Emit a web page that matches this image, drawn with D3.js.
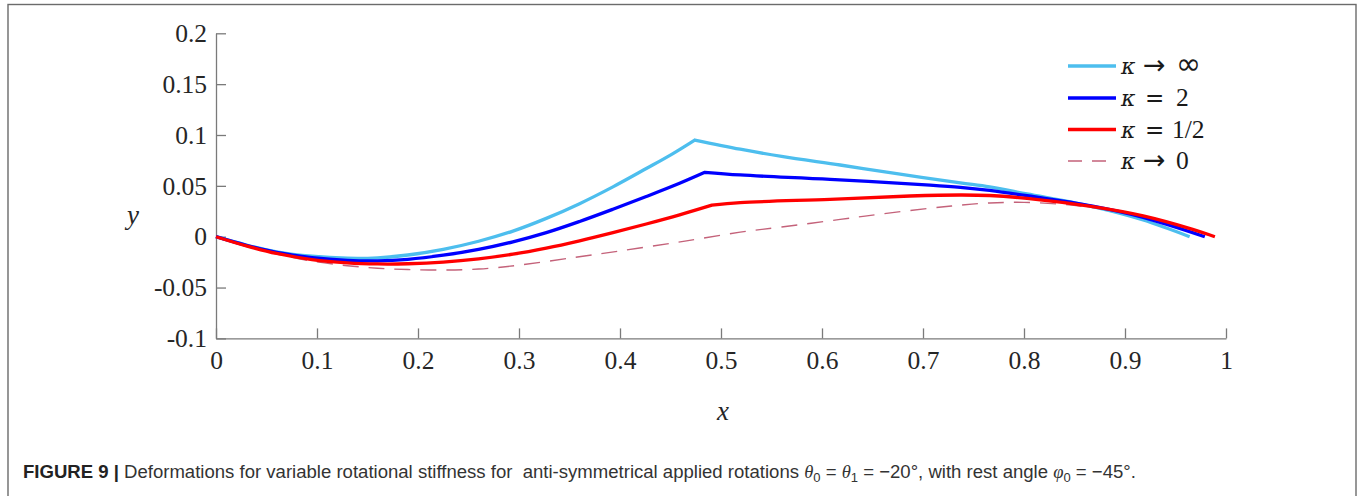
<!DOCTYPE html>
<html>
<head>
<meta charset="utf-8">
<script src="https://cdn.jsdelivr.net/npm/d3@7"></script>
<style>
  html, body { margin: 0; padding: 0; background: #fff; }
  svg { display: block; }
</style>
</head>
<body>
<svg id="chart" width="1362" height="496"></svg>
<script>
// Beam deflection y(x) for several rotational stiffness ratios kappa
const xTickValues = [0, 0.1, 0.2, 0.3, 0.4, 0.5, 0.6, 0.7, 0.8, 0.9, 1];
const xTickLabels = ["0", "0.1", "0.2", "0.3", "0.4", "0.5", "0.6", "0.7", "0.8", "0.9", "1"];
const yTickValues = [-0.1, -0.05, 0, 0.05, 0.1, 0.15, 0.2];
const yTickLabels = ["-0.1", "-0.05", "0", "0.05", "0.1", "0.15", "0.2"];

// kappa -> infinity : left branch up to the hinge, right branch after it
const stiffLeftX  = [0, 0.030, 0.060, 0.095, 0.130, 0.160, 0.190, 0.225, 0.260, 0.294, 0.327, 0.360, 0.393, 0.426, 0.452, 0.474];
const stiffLeftY  = [0, -0.0082, -0.0148, -0.0192, -0.0212, -0.0208, -0.0180, -0.0125, -0.0045, 0.0055, 0.0180, 0.0325, 0.0490, 0.0670, 0.0815, 0.095];
const stiffRightX = [0.474, 0.519, 0.560, 0.618, 0.674, 0.737, 0.766, 0.803, 0.868, 0.918, 0.964];
const stiffRightY = [0.095, 0.086, 0.079, 0.0705, 0.062, 0.053, 0.049, 0.042, 0.0295, 0.0164, 0.0];

// kappa = 2
const k2LeftX  = [0, 0.030, 0.060, 0.095, 0.130, 0.160, 0.190, 0.225, 0.260, 0.294, 0.327, 0.360, 0.393, 0.426, 0.459, 0.484];
const k2LeftY  = [0, -0.0085, -0.0155, -0.0205, -0.0232, -0.0237, -0.0222, -0.0182, -0.0125, -0.0050, 0.0040, 0.0150, 0.0270, 0.0395, 0.0525, 0.0633];
const k2RightX = [0.484, 0.519, 0.608, 0.707, 0.737, 0.766, 0.803, 0.868, 0.918, 0.979];
const k2RightY = [0.0633, 0.0607, 0.0564, 0.0508, 0.0486, 0.0455, 0.0403, 0.030, 0.019, 0.0];

// kappa = 1/2
const kHalfLeftX  = [0, 0.030, 0.060, 0.095, 0.130, 0.160, 0.190, 0.225, 0.260, 0.294, 0.327, 0.360, 0.393, 0.426, 0.459, 0.491];
const kHalfLeftY  = [0, -0.0090, -0.0165, -0.0225, -0.0257, -0.0268, -0.0266, -0.0250, -0.0218, -0.0172, -0.0112, -0.0040, 0.0040, 0.0125, 0.0215, 0.031];
const kHalfRightX = [0.491, 0.519, 0.608, 0.687, 0.737, 0.766, 0.803, 0.868, 0.918, 0.967, 0.989];
const kHalfRightY = [0.031, 0.0335, 0.0368, 0.040, 0.041, 0.0405, 0.0377, 0.0295, 0.0204, 0.0072, 0.0];

// kappa -> 0 (smooth, no hinge)
const softX = [0, 0.030, 0.060, 0.095, 0.130, 0.160, 0.190, 0.225, 0.260, 0.300, 0.354, 0.400, 0.450, 0.479, 0.519, 0.560, 0.618, 0.660, 0.707, 0.737, 0.766, 0.800, 0.836, 0.868, 0.918, 0.967, 0.989];
const softY = [0, -0.0092, -0.0170, -0.0240, -0.0285, -0.0310, -0.0323, -0.0328, -0.0318, -0.0280, -0.0205, -0.0140, -0.0065, -0.0020, 0.0045, 0.0095, 0.017, 0.0225, 0.028, 0.031, 0.0332, 0.0338, 0.032, 0.0285, 0.020, 0.0068, 0.0];

// legend entries: symbol, relation, value
const legendSym = ["κ", "κ", "κ", "κ"];
const legendRel = ["→", "=", "=", "→"];
const legendVal = ["∞", "2", "1/2", "0"];

const colors = { stiff: "#4DBEEE", k2: "#0000FF", kHalf: "#FF0000", soft: "#C4627A" };

const svg = d3.select("#chart");
const serif = "'Liberation Serif', 'Times New Roman', serif";
const mathItalic = "'DejaVu Serif', 'Liberation Serif', serif";

// frame around the figure panel
svg.append("rect")
  .attr("x", 8).attr("y", 4.5)
  .attr("width", 1348).attr("height", 520)
  .attr("fill", "none").attr("stroke", "#6b6b6b").attr("stroke-width", 1.4);

const x = d3.scaleLinear().domain([0, 1]).range([216, 1226]);
const y = d3.scaleLinear().domain([-0.1, 0.2]).range([338.4, 33.3]);

// axes
const xAxis = d3.axisBottom(x).tickValues(xTickValues)
  .tickFormat((d, i) => xTickLabels[i]).tickSizeInner(-10).tickSizeOuter(0).tickPadding(13);
const yAxis = d3.axisLeft(y).tickValues(yTickValues)
  .tickFormat((d, i) => yTickLabels[i]).tickSizeInner(-10).tickSizeOuter(0).tickPadding(9);

const gx = svg.append("g").attr("transform", `translate(0,${y(-0.1)})`).call(xAxis);
const gy = svg.append("g").attr("transform", `translate(${x(0)},0)`).call(yAxis);
[gx, gy].forEach(g => {
  g.select(".domain").attr("stroke", "#7a7a7a").attr("stroke-width", 1.3);
  g.selectAll(".tick line").attr("stroke", "#7a7a7a").attr("stroke-width", 1.3);
  g.selectAll(".tick text").attr("fill", "#262626")
    .style("font-family", serif).style("font-size", "25.5px");
});

// axis titles
svg.append("text").attr("x", 723).attr("y", 420).attr("text-anchor", "middle")
  .style("font-family", serif).style("font-style", "italic").style("font-size", "27px")
  .attr("fill", "#262626").text("x");
svg.append("text").attr("x", 133).attr("y", 224).attr("text-anchor", "middle")
  .style("font-family", serif).style("font-style", "italic").style("font-size", "27px")
  .attr("fill", "#262626").text("y");

// curves
const line = d3.line().x(d => x(d[0])).y(d => y(d[1])).curve(d3.curveCatmullRom.alpha(0.5));
const zip = (xs, ys) => xs.map((v, i) => [v, ys[i]]);
// two smooth branches joined at the hinge without rounding the corner
const hinged = (lx, ly, rx, ry) => line(zip(lx, ly)) + line(zip(rx, ry)).replace(/^M/, "L");

const plot = svg.append("g").attr("fill", "none");
plot.append("path").attr("d", line(zip(softX, softY)))
  .attr("stroke", colors.soft).attr("stroke-width", 1.4).attr("stroke-dasharray", "16,10");
plot.append("path").attr("d", hinged(stiffLeftX, stiffLeftY, stiffRightX, stiffRightY))
  .attr("stroke", colors.stiff).attr("stroke-width", 3.3).attr("stroke-linejoin", "miter");
plot.append("path").attr("d", hinged(k2LeftX, k2LeftY, k2RightX, k2RightY))
  .attr("stroke", colors.k2).attr("stroke-width", 3.3).attr("stroke-linejoin", "miter");
plot.append("path").attr("d", hinged(kHalfLeftX, kHalfLeftY, kHalfRightX, kHalfRightY))
  .attr("stroke", colors.kHalf).attr("stroke-width", 3.3).attr("stroke-linejoin", "miter");

// legend
const legendRows = [66, 98, 129.5, 161];
const legendStyles = [
  { c: colors.stiff, w: 3.3, dash: null },
  { c: colors.k2, w: 3.3, dash: null },
  { c: colors.kHalf, w: 3.3, dash: null },
  { c: colors.soft, w: 1.4, dash: "14,10" }
];
const lg = svg.append("g");
legendSym.forEach((sym, i) => {
  const yy = legendRows[i];
  lg.append("line").attr("x1", 1068).attr("x2", 1116).attr("y1", yy).attr("y2", yy)
    .attr("stroke", legendStyles[i].c).attr("stroke-width", legendStyles[i].w)
    .attr("stroke-dasharray", legendStyles[i].dash);
  const t = lg.append("text").attr("y", yy + 8).attr("fill", "#1a1a1a")
    .style("font-family", serif).style("font-size", "24px");
  t.append("tspan").attr("x", 1121).style("font-family", mathItalic)
    .style("font-style", "italic").style("font-size", "22px").text(sym);
  const rel = legendRel[i];
  const isArrow = rel === "→";
  t.append("tspan").attr("x", isArrow ? 1143 : 1145)
    .style("font-family", "'DejaVu Sans', sans-serif").style("font-size", isArrow ? "27px" : "23px")
    .text(rel);
  const isInf = legendVal[i] === "∞";
  t.append("tspan").attr("x", legendVal[i] === "1/2" ? 1172 : 1176)
    .style("font-family", isInf ? "'DejaVu Sans', sans-serif" : serif)
    .style("font-size", isInf ? "30px" : "25.5px")
    .text(legendVal[i]);
});

// caption
const cap = svg.append("text").attr("x", 23).attr("y", 478)
  .style("font-family", "'Liberation Sans', Arial, sans-serif").style("font-size", "18.5px")
  .attr("fill", "#333").attr("xml:space", "preserve");
cap.append("tspan").style("font-weight", "bold").attr("fill", "#222").text("FIGURE 9 |");
cap.append("tspan").text(" Deformations for variable rotational stiffness for  anti-symmetrical applied rotations ");
cap.append("tspan").style("font-family", serif).style("font-style", "italic").text("θ");
cap.append("tspan").attr("dy", 4).style("font-size", "13px").text("0");
cap.append("tspan").attr("dy", -4).text(" = ");
cap.append("tspan").style("font-family", serif).style("font-style", "italic").text("θ");
cap.append("tspan").attr("dy", 4).style("font-size", "13px").text("1");
cap.append("tspan").attr("dy", -4).text(" = −20°, with rest angle ");
cap.append("tspan").style("font-family", serif).style("font-style", "italic").text("φ");
cap.append("tspan").attr("dy", 4).style("font-size", "13px").text("0");
cap.append("tspan").attr("dy", -4).text(" = −45°.");

// condensed caption face: compress horizontally to the panel's text width
const bb = cap.node().getBBox();
const sx = (1137 - 23) / bb.width;
cap.attr("transform", `translate(23,0) scale(${sx},1) translate(-23,0)`);
</script>
</body>
</html>
